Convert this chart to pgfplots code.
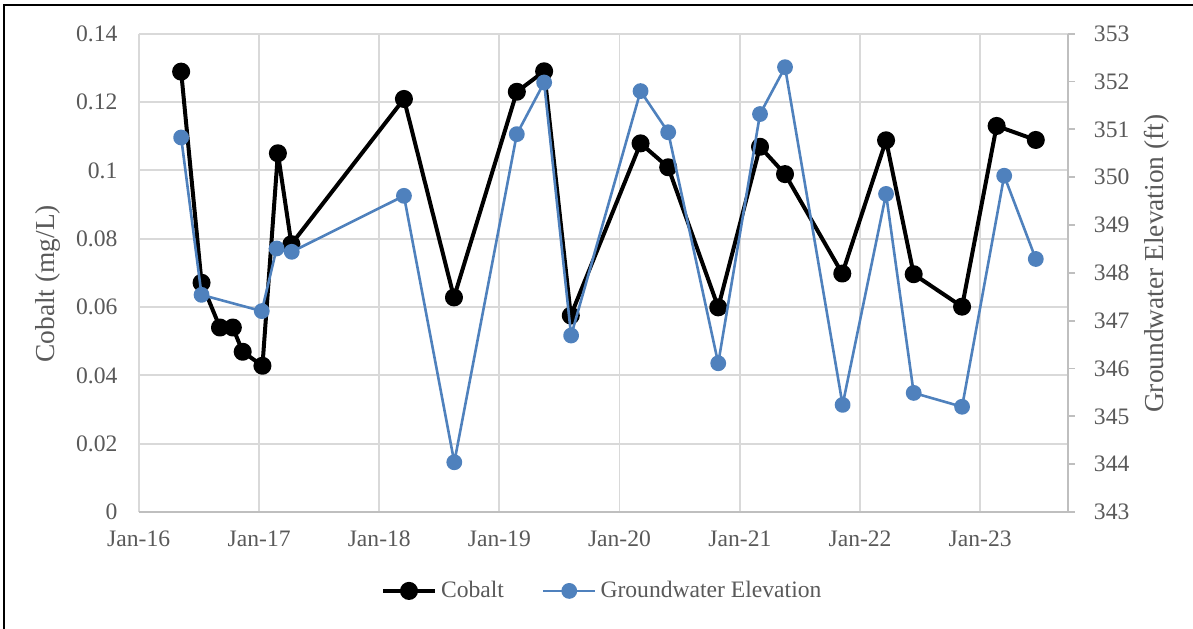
\documentclass[border=0pt]{standalone}
\usepackage{fontspec}
\setmainfont{Liberation Serif}
\usepackage{pgfplots}
\pgfplotsset{compat=1.18}
\definecolor{txtgray}{HTML}{595959}
\definecolor{gridgray}{HTML}{D9D9D9}
\definecolor{axgray}{HTML}{BFBFBF}
\definecolor{gwblue}{HTML}{4F81BD}
\begin{document}
\fontsize{11.8}{14}\selectfont
\begin{tikzpicture}
\useasboundingbox (0,0) rectangle (596.5pt,314pt);
\draw[line width=1.4pt,black] (2pt,-10pt) -- (2pt,311.5pt) -- (610pt,311.5pt);
\begin{axis}[
  at={(69.35pt,58pt)}, anchor=south west,
  scale only axis, width=464.5pt, height=239.15pt,
  xmin=0, xmax=2823, ymin=0, ymax=0.14,
  xtick={0,366,731,1096,1461,1827,2192,2557},
  xticklabels={Jan-16,Jan-17,Jan-18,Jan-19,Jan-20,Jan-21,Jan-22,Jan-23},
  ytick={0,0.02,0.04,0.06,0.08,0.1,0.12,0.14},
  yticklabels={0,0.02,0.04,0.06,0.08,0.1,0.12,0.14},
  scaled y ticks=false,
  /pgf/number format/assume math mode=true,
  grid=major, major grid style={draw=gridgray, line width=0.9pt},
  axis x line*=bottom, axis y line*=left,
  x axis line style={draw=axgray, line width=0.9pt, -},
  y axis line style={draw=none},
  major tick length=0pt,
  tick label style={font=\fontsize{11.8}{14}\selectfont, text=txtgray},
  xticklabel style={yshift=-5.5pt},
  yticklabel style={xshift=-6.5pt},
  ylabel={Cobalt (mg/L)},
  every axis y label/.style={at={(axis description cs:-0.0977,0.477)}, rotate=90, anchor=center,
    font=\fontsize{13.7}{16}\selectfont, text=txtgray},
  clip=false,
]
\addplot[black, line width=2pt, line join=round, mark=*, mark size=3.5pt, mark options={solid, fill=black}] table {
x y
129 0.1289
191 0.0671
247 0.0540
286 0.0540
316 0.0469
376 0.0428
423 0.1050
464 0.0784
806 0.1209
958 0.0628
1149 0.1230
1232 0.1290
1313 0.0575
1525 0.1079
1609 0.1009
1761 0.0599
1888 0.1069
1964 0.0989
2138 0.0698
2271 0.1088
2355 0.0696
2502 0.0601
2607 0.1130
2726 0.1089
};
\end{axis}
\begin{axis}[
  at={(69.35pt,58pt)}, anchor=south west,
  scale only axis, width=464.5pt, height=239.15pt,
  xmin=0, xmax=2823, ymin=343, ymax=353,
  axis x line=none, axis y line*=right,
  y axis line style={draw=axgray, line width=0.9pt, -},
  ytick={343,344,345,346,347,348,349,350,351,352,353},
  /pgf/number format/assume math mode=true,
  tick align=outside, major tick length=3.5pt,
  tick style={draw=axgray, line width=0.9pt},
  tick label style={font=\fontsize{11.8}{14}\selectfont, text=txtgray},
  yticklabel style={xshift=5.5pt},
  ylabel={Groundwater Elevation (ft)},
  every axis y label/.style={at={(axis description cs:1.096,0.519)}, rotate=90, anchor=center,
    font=\fontsize{13.7}{16}\selectfont, text=txtgray},
  legend style={at={(0.5,-0.165)}, anchor=center, draw=none, fill=none,
    legend columns=2, font=\fontsize{11.8}{14}\selectfont, text=txtgray,
    /tikz/every even column/.append style={column sep=17pt}},
  legend cell align=left,
  legend image code/.code={\draw[mark repeat=2,mark phase=2,#1] plot coordinates {(0pt,0pt)(13pt,0pt)(26pt,0pt)};},
  clip=false,
]
\addlegendimage{black, line width=2pt, mark=*, mark size=3.5pt, mark options={solid, fill=black}}
\addlegendentry{Cobalt}
\addplot[gwblue, line width=1.3pt, line join=round, mark=*, mark size=3.3pt, mark options={solid, fill=gwblue, draw=gwblue}] table {
x y
129 350.83
191 347.54
374 347.20
419 348.51
465 348.44
806 349.61
959 344.04
1149 350.90
1232 351.98
1314 346.69
1525 351.80
1609 350.94
1761 346.11
1888 351.32
1964 352.30
2139 345.24
2271 349.65
2355 345.49
2502 345.20
2630 350.03
2726 348.29
};
\addlegendentry{Groundwater Elevation}
\end{axis}
\end{tikzpicture}
\end{document}
